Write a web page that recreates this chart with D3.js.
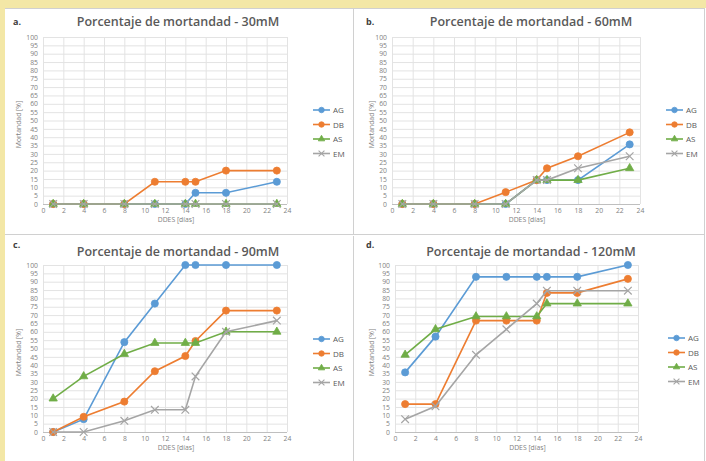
<!DOCTYPE html>
<html><head><meta charset="utf-8">
<script src="https://cdn.jsdelivr.net/npm/d3@7"></script>
<style>
body{margin:0;padding:0;background:#fff;}
svg{display:block;}
</style></head>
<body>
<script>
// ---- DATA ----
const days = [1, 4, 8, 11, 14, 15, 18, 23];
const seriesNames = ["AG", "DB", "AS", "EM"];
const xTicks = [0, 2, 4, 6, 8, 10, 12, 14, 16, 18, 20, 22, 24];
const yTicks = [0,5,10,15,20,25,30,35,40,45,50,55,60,65,70,75,80,85,90,95,100];
const panelLetters = ["a.", "b.", "c.", "d."];
const panelTitles = ["Porcentaje de mortandad - 30mM", "Porcentaje de mortandad - 60mM",
                     "Porcentaje de mortandad - 90mM", "Porcentaje de mortandad - 120mM"];

const ag30 = [0, 0, 0, 0, 0, 6.7, 6.7, 13.3];
const db30 = [0, 0, 0, 13.3, 13.3, 13.3, 20, 20];
const as30 = [0, 0, 0, 0, 0, 0, 0, 0];
const em30 = [0, 0, 0, 0, 0, 0, 0, 0];

const ag60 = [0, 0, 0, 0, 14.3, 14.3, 14.3, 35.7];
const db60 = [0, 0, 0, 7.1, 14.3, 21.4, 28.6, 42.9];
const as60 = [0, 0, 0, 0, 14.3, 14.3, 14.3, 21.4];
const em60 = [0, 0, 0, 0, 14.3, 14.3, 21.4, 28.6];

const ag90 = [0, 7.7, 53.8, 76.9, 100, 100, 100, 100];
const db90 = [0, 9.1, 18.2, 36.4, 45.5, 54.5, 72.7, 72.7];
const as90 = [20, 33.3, 46.7, 53.3, 53.3, 53.3, 60, 60];
const em90 = [0, 0, 6.7, 13.3, 13.3, 33.3, 60, 66.7];

const ag120 = [35.7, 57.1, 92.9, 92.9, 92.9, 92.9, 92.9, 100];
const db120 = [16.7, 16.7, 66.7, 66.7, 66.7, 83.3, 83.3, 91.7];
const as120 = [46.2, 61.5, 69.2, 69.2, 69.2, 76.9, 76.9, 76.9];
const em120 = [7.7, 15.4, 46.2, 61.5, 76.9, 84.6, 84.6, 84.6];

const panelData = [
  [ag30, db30, as30, em30],
  [ag60, db60, as60, em60],
  [ag90, db90, as90, em90],
  [ag120, db120, as120, em120]
];

// ---- STYLE ----
const colors = {AG: "#5b9bd5", DB: "#ed7d31", AS: "#70ad47", EM: "#a5a5a5"};
const symbols = {AG: d3.symbolCircle, DB: d3.symbolCircle, AS: d3.symbolTriangle, EM: d3.symbolX};
const symSize = {AG: 40, DB: 40, AS: 30, EM: 40};

const W = 706, H = 461;
const svg = d3.select("body").append("svg").attr("width", W).attr("height", H);

// background strips (yellow border)
svg.append("rect").attr("x", 0).attr("y", 0).attr("width", W).attr("height", H).attr("fill", "#fff");
svg.append("rect").attr("x", 0).attr("y", 0).attr("width", W).attr("height", 8).attr("fill", "#f3e7a6");
svg.append("rect").attr("x", 0).attr("y", 0).attr("width", 5).attr("height", H).attr("fill", "#f3e7a6");

// panel frames
const frame = svg.append("g").attr("stroke", "#d0d0d0").attr("fill", "none");
frame.append("line").attr("x1", 5).attr("x2", 705).attr("y1", 8.5).attr("y2", 8.5);
frame.append("line").attr("x1", 353.5).attr("x2", 353.5).attr("y1", 8).attr("y2", 234);
frame.append("line").attr("x1", 5).attr("x2", 705).attr("y1", 234.5).attr("y2", 234.5);
frame.append("line").attr("x1", 704.5).attr("x2", 704.5).attr("y1", 8).attr("y2", H);
frame.append("line").attr("x1", 353.5).attr("x2", 353.5).attr("y1", 236).attr("y2", H);

const panels = [
  {x0: 43, x1: 287, y0: 204, y1: 37, ox: 0, oy: 0, legX: 313, legY: 110},
  {x0: 392, x1: 640, y0: 204, y1: 37, ox: 353, oy: 0, legX: 666, legY: 110},
  {x0: 43, x1: 287, y0: 432, y1: 265, ox: 0, oy: 230, legX: 313, legY: 339},
  {x0: 395, x1: 638, y0: 432, y1: 265, ox: 353, oy: 230, legX: 668, legY: 338}
];

const font = "'Open Sans', 'Liberation Sans', sans-serif";
const textColor = "#595959";

panels.forEach((p, i) => {
  const g = svg.append("g");
  const x = d3.scaleLinear().domain([0, 24]).range([p.x0, p.x1]);
  const y = d3.scaleLinear().domain([0, 100]).range([p.y0, p.y1]);

  // gridlines
  g.append("g").attr("transform", `translate(0,${p.y0})`)
    .call(d3.axisBottom(x).tickValues(xTicks).tickSize(-(p.y0 - p.y1)).tickFormat(""))
    .call(a => a.select(".domain").remove())
    .call(a => a.selectAll("line").attr("stroke", "#e3e3e3"));
  g.append("g").attr("transform", `translate(${p.x0},0)`)
    .call(d3.axisLeft(y).tickValues(yTicks).tickSize(-(p.x1 - p.x0)).tickFormat(""))
    .call(a => a.select(".domain").remove())
    .call(a => a.selectAll("line").attr("stroke", "#e3e3e3"));
  // bottom axis line
  g.append("line").attr("x1", p.x0).attr("x2", p.x1).attr("y1", p.y0 + 0.5).attr("y2", p.y0 + 0.5)
    .attr("stroke", "#bfbfbf");

  // tick labels
  const xa = g.append("g").attr("transform", `translate(0,${p.y0})`)
    .call(d3.axisBottom(x).tickValues(xTicks).tickSize(0).tickPadding(4));
  xa.select(".domain").remove();
  xa.selectAll("text").attr("font-family", font).attr("font-size", 6.8).attr("fill", "#7f7f7f");
  const ya = g.append("g").attr("transform", `translate(${p.x0},0)`)
    .call(d3.axisLeft(y).tickValues(yTicks).tickSize(0).tickPadding(5));
  ya.select(".domain").remove();
  ya.selectAll("text").attr("font-family", font).attr("font-size", 6.8).attr("fill", "#7f7f7f");

  // axis titles
  g.append("text").attr("x", (p.x0 + p.x1) / 2 + 11).attr("y", p.y0 + 18)
    .attr("text-anchor", "middle").attr("font-family", font).attr("font-size", 6.8)
    .attr("fill", "#7f7f7f").text("DDES [días]");
  g.append("text").attr("transform", `translate(${p.ox + 21},${(p.y0 + p.y1) / 2 + 4}) rotate(-90)`)
    .attr("text-anchor", "middle").attr("font-family", font).attr("font-size", 6.8)
    .attr("fill", "#7f7f7f").text("Mortandad [%]");

  // title and letter
  g.append("text").attr("x", p.ox + 178).attr("y", p.oy + 26)
    .attr("text-anchor", "middle").attr("font-family", font).attr("font-size", 12.5)
    .attr("font-weight", 600).attr("fill", textColor).text(panelTitles[i]);
  g.append("text").attr("x", p.ox + 13).attr("y", p.oy + (i < 2 ? 25 : 18))
    .attr("font-family", font).attr("font-size", 9).attr("font-weight", "bold")
    .attr("fill", "#404040").text(panelLetters[i]);

  // series
  seriesNames.forEach((name, si) => {
    const vals = panelData[i][si];
    const pts = days.map((d, k) => [d, vals[k]]);
    const line = d3.line().x(d => x(d[0])).y(d => y(d[1]));
    g.append("path").attr("d", line(pts)).attr("fill", "none")
      .attr("stroke", colors[name]).attr("stroke-width", 1.6);
    const sym = d3.symbol().type(symbols[name]).size(symSize[name]);
    g.selectAll(null).data(pts).join("path")
      .attr("transform", d => `translate(${x(d[0])},${y(d[1])})`)
      .attr("d", sym)
      .attr("fill", name === "EM" ? "none" : colors[name])
      .attr("stroke", colors[name]).attr("stroke-width", name === "EM" ? 1.2 : 0.8);

    // legend
    const ly = p.legY + si * 14.5;
    g.append("line").attr("x1", p.legX).attr("x2", p.legX + 17).attr("y1", ly).attr("y2", ly)
      .attr("stroke", colors[name]).attr("stroke-width", 1.6);
    g.append("path").attr("transform", `translate(${p.legX + 8.5},${ly})`)
      .attr("d", d3.symbol().type(symbols[name]).size(symSize[name] * 0.6))
      .attr("fill", name === "EM" ? "none" : colors[name])
      .attr("stroke", colors[name]).attr("stroke-width", name === "EM" ? 1.1 : 0.8);
    g.append("text").attr("x", p.legX + 20).attr("y", ly + 3)
      .attr("font-family", font).attr("font-size", 8).attr("fill", textColor).text(name);
  });
});
</script>
</body></html>
